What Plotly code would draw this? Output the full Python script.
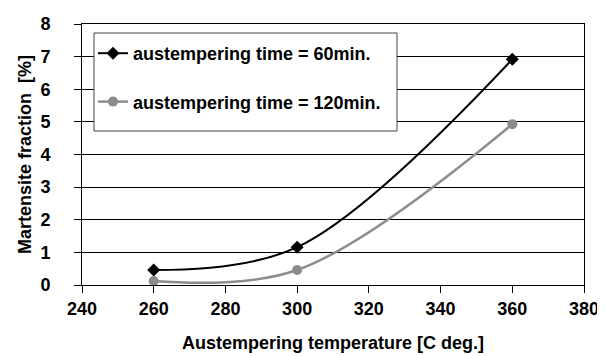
import plotly.graph_objects as go

temps = [260, 300, 360]
frac_60 = [0.46, 1.16, 6.92]
frac_120 = [0.12, 0.46, 4.93]
name_60 = "austempering time = 60min."
name_120 = "austempering time = 120min."
x_ticks = [240, 260, 280, 300, 320, 340, 360, 380]
y_ticks = [0, 1, 2, 3, 4, 5, 6, 7, 8]

FONT = "Liberation Sans, Arial, sans-serif"

fig = go.Figure()
fig.add_trace(go.Scatter(
    x=temps, y=frac_60, name=name_60, mode="lines+markers",
    line=dict(color="#000000", width=2, shape="spline", smoothing=1.0),
    marker=dict(symbol="diamond", size=10, color="#000000"),
    legendgroup="a",
))
fig.add_trace(go.Scatter(
    x=temps, y=frac_120, name=name_120, mode="lines+markers",
    line=dict(color="#8c8c8c", width=2.5, shape="spline", smoothing=1.0),
    marker=dict(symbol="circle", size=10, color="#8c8c8c"),
    legendgroup="b",
))

L, R, T, B = 74, 29, 16, 79
W, H = 605, 356
pw, ph = W - L - R, H - T - B

def px(xp):
    return (xp - L) / pw

def py(yp):
    return (H - B - yp) / ph

fig.add_shape(type="rect", xref="paper", yref="paper",
              x0=px(86), x1=px(389), y0=py(123), y1=py(25),
              line=dict(color="#444444", width=1), fillcolor="white", layer="above")

fig.update_layout(
    width=W, height=H,
    margin=dict(l=L, r=R, t=T, b=B),
    paper_bgcolor="white", plot_bgcolor="white",
    font=dict(family=FONT, size=18, color="#000000", weight="bold"),
    showlegend=True,
    legend=dict(
        x=px(85), y=py(27), xanchor="left", yanchor="top",
        bgcolor="rgba(0,0,0,0)", borderwidth=0,
        font=dict(family=FONT, size=18, color="#000000", weight="bold"),
        tracegroupgap=22, traceorder="grouped",
    ),
    xaxis=dict(
        range=[240, 380], tickvals=x_ticks, ticktext=[str(v) for v in x_ticks],
        showgrid=False, zeroline=False,
        showline=True, linecolor="#000000", linewidth=1, mirror=True,
        ticks="outside", ticklen=7, tickcolor="#000000", tickwidth=1,
        ticklabelstandoff=0,
        tickfont=dict(family=FONT, size=18, weight="bold"),
        title=dict(text="Austempering temperature [C deg.]", standoff=18,
                   font=dict(family=FONT, size=18, weight="bold")),
        automargin=False,
    ),
    yaxis=dict(
        range=[0, 8], tickvals=y_ticks, ticktext=[str(v) for v in y_ticks],
        showgrid=True, gridcolor="#000000", gridwidth=1,
        zeroline=False,
        showline=True, linecolor="#000000", linewidth=1, mirror=True,
        ticks="outside", ticklen=7, tickcolor="#000000", tickwidth=1,
        ticklabelstandoff=20,
        tickfont=dict(family=FONT, size=18, weight="bold"),
        title=dict(text="Martensite fraction  [%]", standoff=4,
                   font=dict(family=FONT, size=18, weight="bold")),
        automargin=False,
    ),
)

fig.write_html("out.html")
